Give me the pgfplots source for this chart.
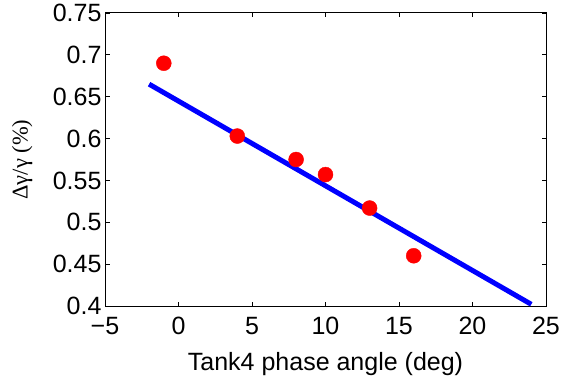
\documentclass[border=0pt]{standalone}
\usepackage{pgfplots}
\pgfplotsset{compat=1.18}
\usepackage{fontspec}
\setmainfont{Liberation Sans}
\newfontfamily\serif{Liberation Serif}
\begin{document}
\begin{tikzpicture}
\path[use as bounding box] (0,0) rectangle (562pt,381pt);
\begin{axis}[
  at={(105pt,75pt)}, anchor=south west,
  scale only axis, width=441pt, height=293pt,
  xmin=-5, xmax=25, ymin=0.4, ymax=0.75,
  xtick={-5,0,5,10,15,20,25},
  xticklabels={−5,0,5,10,15,20,25},
  ytick={0.4,0.45,0.5,0.55,0.6,0.65,0.7,0.75},
  yticklabels={0.4,0.45,0.5,0.55,0.6,0.65,0.7,0.75},
  tick align=inside,
  major tick length=4.5pt,
  axis line style={line width=1pt},
  every tick/.style={black, line width=0.8pt},
  ticklabel style={font=\fontsize{25}{30}\selectfont},
  xticklabel style={yshift=-8pt},
  xlabel={Tank4 phase angle (deg)},
  xlabel style={font=\fontsize{25}{30}\selectfont, at={(axis description cs:0.5,-0.199)}, anchor=center},
  ylabel={{\serif Δγ/γ (\%)}},
  ylabel style={font=\fontsize{22.5}{26}\selectfont, at={(axis description cs:-0.188,0.5)}, anchor=center, rotate=0},
  clip=true,
]
\addplot[only marks, mark=*, mark size=7.5pt, color=red, mark options={fill=red, draw=red}]
  coordinates {(-1,0.690) (4,0.603) (8,0.575) (10,0.557) (13,0.517) (16,0.460)};
\addplot[color=blue, line width=5pt] coordinates {(-2,0.665) (24,0.402)};
\end{axis}
\end{tikzpicture}
\end{document}
